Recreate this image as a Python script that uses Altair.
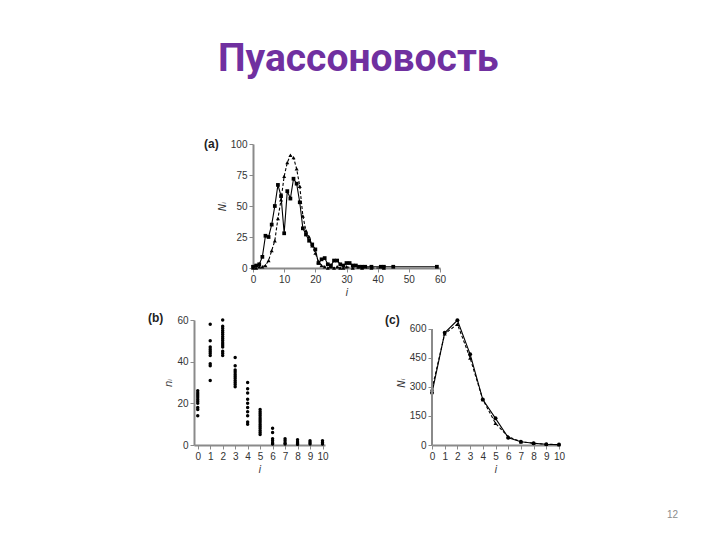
import altair as alt
import pandas as pd

TITLE = "Пуассоновость"
PAGE = "12"

# ---- panel (a) ----
a_i_solid = list(range(0, 37)) + [38, 41, 42, 45, 59]
a_n_solid = [1, 2, 3, 9, 26, 25, 35, 50, 67, 58, 28, 62, 56, 72, 68, 53, 32, 27, 22, 19, 15,
             4, 7, 8, 3, 2, 6, 6, 3, 2, 4, 4, 2, 2, 1, 1, 1,
             1, 1, 1, 1, 1]
a_i_dash = list(range(0, 31)) + [32, 35, 38, 42]
a_n_dash = [0, 0, 1, 1, 2, 6, 14, 22, 40, 55, 74, 85, 91, 89, 80, 66, 42, 30, 25, 18, 12,
            5, 2, 1, 0, 1, 0, 1, 0, 0, 1,
            0, 0, 0, 0]
a_xticks = [0, 10, 20, 30, 40, 50, 60]
a_yticks = [0, 25, 50, 75, 100]

# ---- panel (b) ----
b_i = list(range(11))
b_n = [
    [26, 25, 24, 23, 22, 21, 20, 18, 17, 14],
    [58, 50, 47, 46, 45, 44, 43, 39, 38, 31],
    [60, 57, 56, 55, 54, 53, 52, 51, 50, 49, 48, 47, 45, 44, 43],
    [42, 38, 36, 35, 34, 33, 32, 31, 30, 29, 28],
    [30, 27, 25, 22, 20, 18, 16, 14, 11, 10],
    [17, 16, 15, 14, 13, 12, 11, 10, 9, 8, 7, 6, 5],
    [8, 6, 3, 2, 1, 0.5],
    [3, 2, 1, 0.5],
    [2.5, 1.5, 0.8, 0.3],
    [2, 1.2, 0.5],
    [2, 1.2, 0.5],
]
b_xticks = list(range(11))
b_yticks = [0, 20, 40, 60]

# ---- panel (c) ----
c_i = list(range(11))
c_solid = [270, 580, 645, 470, 235, 138, 38, 17, 9, 4, 2]
c_dash = [290, 575, 625, 450, 235, 112, 43, 17, 9, 4, 2]
c_xticks = list(range(11))
c_yticks = [0, 150, 300, 450, 600]

AX = "#8a8a8a"


def axis(values, title, **kw):
    return alt.Axis(values=values, title=title, grid=False, domainColor=AX, domainWidth=2,
                    tickColor=AX, tickSize=4, tickWidth=1, labelFont="Liberation Sans",
                    labelFontSize=10, labelColor="#333", labelOverlap=False, labelFlush=False,
                    titleFont="DejaVu Sans", titleFontStyle="italic", titleFontWeight="normal",
                    titleFontSize=10, titleColor="#333", labelPadding=2, titlePadding=3, **kw)


def label(txt, x, y):
    return alt.Chart(pd.DataFrame({"t": [txt]})).mark_text(
        font="Liberation Sans", fontSize=12, fontWeight="bold", color="#222",
        align="left", baseline="middle").encode(x=alt.value(x), y=alt.value(y), text="t:N")


# panel a
df_as = pd.DataFrame({"i": a_i_solid, "N": a_n_solid})
df_ad = pd.DataFrame({"i": a_i_dash, "N": a_n_dash})
ax_x = alt.X("i:Q", scale=alt.Scale(domain=[0, 60], nice=False), axis=axis(a_xticks, "i"))
ax_y = alt.Y("N:Q", scale=alt.Scale(domain=[0, 100], nice=False), axis=axis(a_yticks, "Nᵢ"))
pa = alt.layer(
    alt.Chart(df_ad).mark_line(color="black", strokeWidth=1.1, strokeDash=[3, 2]).encode(ax_x, ax_y),
    alt.Chart(df_ad).mark_point(shape="triangle-up", filled=True, size=16, color="black", opacity=1).encode(ax_x, ax_y),
    alt.Chart(df_as).mark_line(color="black", strokeWidth=1.1).encode(ax_x, ax_y),
    alt.Chart(df_as).mark_point(shape="square", filled=True, size=14, color="black", opacity=1).encode(ax_x, ax_y),
    label("(a)", -49, 0),
).properties(width=187, height=124)

spacer = alt.Chart(pd.DataFrame({"t": [""]})).mark_text().encode(
    x=alt.value(0), y=alt.value(0), text="t:N").properties(width=10, height=124)

# panel b
rows = []
for i, vals in zip(b_i, b_n):
    for v in vals:
        rows.append({"i": i, "n": v})
df_b = pd.DataFrame(rows)
bx = alt.X("i:Q", scale=alt.Scale(domain=[-0.3, 10.2], nice=False), axis=axis(b_xticks, "i"))
by = alt.Y("n:Q", scale=alt.Scale(domain=[0, 60], nice=False), axis=axis(b_yticks, "nᵢ"))
pb = alt.layer(
    alt.Chart(df_b).mark_point(shape="circle", filled=True, size=12, color="black", opacity=1).encode(bx, by),
    label("(b)", -46, -2),
).properties(width=131, height=125)

# panel c
df_c = pd.DataFrame({"i": c_i, "solid": c_solid, "dash": c_dash})
c_scale = alt.Scale(domain=[0, 646.5], nice=False)
c_axis = axis(c_yticks, "Nᵢ", domain=False)
cx = alt.X("i:Q", scale=alt.Scale(domain=[0, 10], nice=False), axis=axis(c_xticks, "i"))
cy_s = alt.Y("solid:Q", scale=c_scale, axis=c_axis)
cy_d = alt.Y("dash:Q", scale=c_scale, axis=c_axis)
df_cax = pd.DataFrame({"y0": [0], "y1": [600]})
pc = alt.layer(
    alt.Chart(df_c).mark_line(color="black", strokeWidth=1.1, strokeDash=[3, 2]).encode(cx, cy_d),
    alt.Chart(df_c).mark_point(shape="triangle-up", filled=True, size=16, color="black", opacity=1).encode(cx, cy_d),
    alt.Chart(df_c).mark_line(color="black", strokeWidth=1.1).encode(cx, cy_s),
    alt.Chart(df_c).mark_point(shape="circle", filled=True, size=16, color="black", opacity=1).encode(cx, cy_s),
    alt.Chart(df_cax).mark_rule(color=AX, strokeWidth=2).encode(
        x=alt.value(0), y=alt.Y("y0:Q", scale=c_scale, axis=c_axis), y2="y1:Q"),
    label("(c)", -47, 0),
    alt.Chart(pd.DataFrame({"t": [PAGE]})).mark_text(
        font="Liberation Sans", fontSize=10, color="#8c8c8c", align="left", baseline="middle"
    ).encode(x=alt.value(235), y=alt.value(195), text="t:N"),
).properties(width=127, height=125)

row1 = alt.hconcat(spacer, pa, spacing=0)
row2 = alt.hconcat(pb, pc, spacing=56)

chart = alt.vconcat(row1, row2, spacing=15).properties(
    title=alt.TitleParams(TITLE, font="Roboto", fontSize=39, fontWeight="bold",
                          color="#7030A0", anchor="start", frame="bounds", dx=70, offset=28,
                          baseline="alphabetic"),
    padding={"left": 140, "top": 32, "right": 2, "bottom": 2},
    background="white",
).configure_view(stroke=None)

chart.save("out.html", embed_options={"renderer": "svg", "actions": False})
